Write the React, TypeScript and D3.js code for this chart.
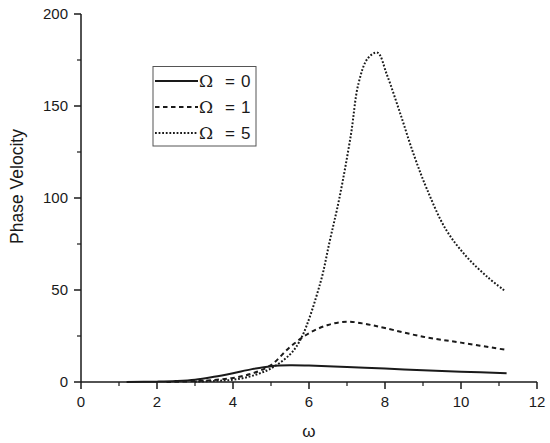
import React from "react";
import * as d3 from "d3";

const xTicks = [0, 2, 4, 6, 8, 10, 12];
const yTicks = [0, 50, 100, 150, 200];

const omega0X = [1.2, 2, 2.5, 3, 3.5, 4, 4.5, 5, 5.5, 6, 7, 8, 9, 10, 11.2];
const omega0Y = [0, 0.2, 0.5, 1.2, 2.8, 4.8, 7, 8.6, 9.1, 8.9, 8.1, 7.3, 6.4, 5.6, 4.8];

const omega1X = [2.25, 3, 3.5, 4, 4.5, 5, 5.5, 6, 6.5, 7, 7.5, 8, 9, 10, 11.2];
const omega1Y = [0, 0.5, 1.1, 2.2, 4.6, 9.2, 19, 26.5, 31, 32.8, 31.5, 29.3, 24.6, 21.4, 17.4];

const omega5X = [3, 3.5, 4, 4.5, 5, 5.5, 5.8, 6.3, 6.55, 6.8, 7.1, 7.3, 7.55, 7.8, 8.05, 8.4, 8.75, 9.1, 9.6, 10.15, 10.7, 11.15];
const omega5Y = [0.2, 0.6, 1.2, 3.3, 7.4, 15, 24, 54, 77, 100, 134, 162, 176, 179, 167, 146, 124, 105, 83, 68, 57, 49.6];

const seriesLabels = ["0", "1", "5"];

const FONT = "'Liberation Sans', Arial, sans-serif";
const SERIF = "'DejaVu Serif', 'Liberation Serif', serif";
const INK = "#1a1a1a";

export default function App() {
  const x = d3.scaleLinear().domain([0, 12]).range([81, 537]);
  const y = d3.scaleLinear().domain([0, 200]).range([382, 14]);

  const line = d3
    .line<[number, number]>()
    .x((d) => x(d[0]))
    .y((d) => y(d[1]))
    .curve(d3.curveCatmullRom.alpha(0.5));

  const series = [
    { xs: omega0X, ys: omega0Y, dash: undefined as string | undefined, w: 2 },
    { xs: omega1X, ys: omega1Y, dash: "4.5,3.5", w: 2 },
    { xs: omega5X, ys: omega5Y, dash: "1.8,1.8", w: 2 },
  ];

  const xMinor = d3.range(1, 12, 2);
  const yMinor = d3.range(25, 200, 50);

  const legendRows = [81, 107, 133];

  return (
    <svg
      width={550}
      height={443}
      style={{ position: "absolute", left: 0, top: 0, background: "#fff" }}
    >
      <rect x={0} y={0} width={550} height={443} fill="#fff" />
      {/* axes */}
      <line x1={x(0)} x2={x(12)} y1={y(0)} y2={y(0)} stroke={INK} strokeWidth={1.5} />
      <line x1={x(0)} x2={x(0)} y1={y(0)} y2={y(200)} stroke={INK} strokeWidth={1.5} />
      {xTicks.map((t) => (
        <g key={"xt" + t}>
          <line x1={x(t)} x2={x(t)} y1={y(0)} y2={y(0) + 7} stroke={INK} strokeWidth={1.5} />
          <text x={x(t)} y={407} textAnchor="middle" fontFamily={FONT} fontSize={15} fill={INK}>
            {t}
          </text>
        </g>
      ))}
      {xMinor.map((t) => (
        <line key={"xm" + t} x1={x(t)} x2={x(t)} y1={y(0)} y2={y(0) + 4} stroke={INK} strokeWidth={1.2} />
      ))}
      {yTicks.map((t) => (
        <g key={"yt" + t}>
          <line x1={x(0) - 7} x2={x(0)} y1={y(t)} y2={y(t)} stroke={INK} strokeWidth={1.5} />
          <text x={68} y={y(t) + 5.3} textAnchor="end" fontFamily={FONT} fontSize={15} fill={INK}>
            {t}
          </text>
        </g>
      ))}
      {yMinor.map((t) => (
        <line key={"ym" + t} x1={x(0) - 4} x2={x(0)} y1={y(t)} y2={y(t)} stroke={INK} strokeWidth={1.2} />
      ))}
      <text
        transform={`translate(22.5,186.5) rotate(-90)`}
        textAnchor="middle"
        fontFamily={FONT}
        fontSize={17.5}
        fill={INK}
      >
        Phase Velocity
      </text>
      <text x={309} y={437} textAnchor="middle" fontFamily={FONT} fontSize={17} fill={INK}>
        ω
      </text>

      {/* series */}
      {series.map((s, i) => (
        <path
          key={"s" + i}
          d={line(s.xs.map((v, j) => [v, s.ys[j]] as [number, number])) || ""}
          fill="none"
          stroke={INK}
          strokeWidth={s.w}
          strokeDasharray={s.dash}
        />
      ))}

      {/* legend */}
      <rect x={153} y={66.5} width={103} height={79.5} fill="#fff" stroke="#555" strokeWidth={1} />
      {series.map((s, i) => (
        <g key={"lg" + i}>
          <line
            x1={155}
            x2={198}
            y1={legendRows[i]}
            y2={legendRows[i]}
            stroke={INK}
            strokeWidth={s.w}
            strokeDasharray={s.dash}
          />
          <text y={legendRows[i] + 6} fontSize={17} fill={INK}>
            <tspan x={199} fontFamily={SERIF} fontSize={17}>Ω</tspan>
            <tspan x={225} fontFamily={FONT}>=</tspan>
            <tspan x={241} fontFamily={FONT}>{seriesLabels[i]}</tspan>
          </text>
        </g>
      ))}
    </svg>
  );
}
